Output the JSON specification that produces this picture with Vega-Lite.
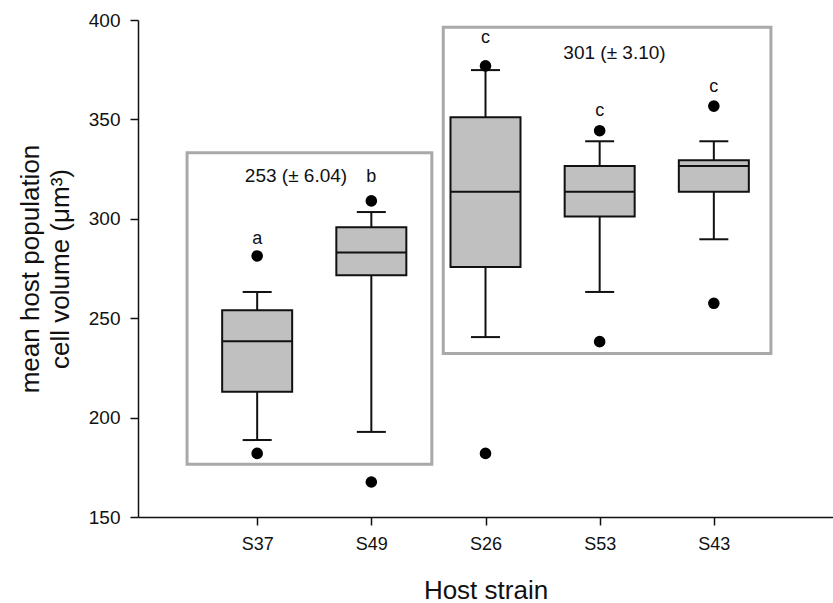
{
  "$schema": "https://vega.github.io/schema/vega-lite/v6.json",
  "width": 695,
  "height": 497,
  "autosize": {"type": "none"},
  "padding": {"left": 138, "top": 20, "right": 0, "bottom": 86},
  "background": "white",
  "config": {
    "view": {"stroke": null},
    "font": "Liberation Sans",
    "axis": {
      "grid": false,
      "domainColor": "#111111",
      "domainWidth": 1.5,
      "tickColor": "#111111",
      "tickWidth": 1.5,
      "tickSize": 8,
      "labelColor": "#111111",
      "labelFont": "Liberation Sans",
      "titleFont": "Liberation Sans",
      "titleColor": "#111111",
      "titleFontWeight": "normal"
    }
  },
  "datasets": {
    "boxes": [
      {"strain": "S37", "idx": 1, "wlo": 188.7, "q1": 213.0, "med": 238.4, "q3": 254.0, "whi": 263.2},
      {"strain": "S49", "idx": 2, "wlo": 192.8, "q1": 271.6, "med": 283.1, "q3": 295.7, "whi": 303.4},
      {"strain": "S26", "idx": 3, "wlo": 240.5, "q1": 275.8, "med": 313.6, "q3": 351.1, "whi": 374.8},
      {"strain": "S53", "idx": 4, "wlo": 263.2, "q1": 301.1, "med": 313.6, "q3": 326.6, "whi": 339.0},
      {"strain": "S43", "idx": 5, "wlo": 289.7, "q1": 313.6, "med": 326.6, "q3": 329.4, "whi": 339.0}
    ],
    "outliers": [
      {"idx": 1, "v": 281.3}, {"idx": 1, "v": 182.0},
      {"idx": 2, "v": 309.0}, {"idx": 2, "v": 167.6},
      {"idx": 3, "v": 376.9}, {"idx": 3, "v": 182.0},
      {"idx": 4, "v": 344.3}, {"idx": 4, "v": 238.2},
      {"idx": 5, "v": 356.7}, {"idx": 5, "v": 257.5}
    ],
    "letters": [
      {"idx": 1, "v": 289.8, "label": "a"},
      {"idx": 2, "v": 320.9, "label": "b"},
      {"idx": 3, "v": 390.8, "label": "c"},
      {"idx": 4, "v": 354.2, "label": "c"},
      {"idx": 5, "v": 366.4, "label": "c"}
    ],
    "frames": [
      {"x1": 0.386, "x2": 2.53, "y1": 176.5, "y2": 333.2, "label": "253 (± 6.04)", "lx": 1.34, "ly": 321.7},
      {"x1": 2.63, "x2": 5.5, "y1": 232.3, "y2": 396.3, "label": "301 (± 3.10)", "lx": 4.13, "ly": 383.2}
    ]
  },
  "layer": [
    {
      "data": {"name": "frames"},
      "mark": {"type": "rect", "fill": null, "filled": false, "stroke": "#a9a9a9", "strokeWidth": 3},
      "encoding": {
        "x": {"field": "x1", "type": "quantitative", "scale": {"domain": [0, 6], "nice": false, "zero": false},
          "axis": {"values": [1, 2, 3, 4, 5], "labelExpr": "['','S37','S49','S26','S53','S43'][datum.value]", "labelFontSize": 18, "labelPadding": 10, "title": "Host strain", "titleFontSize": 26, "titlePadding": 24}},
        "x2": {"field": "x2"},
        "y": {"field": "y1", "type": "quantitative", "scale": {"domain": [150, 400], "nice": false, "zero": false},
          "axis": {"values": [150, 200, 250, 300, 350, 400], "labelFontSize": 19, "labelPadding": 10, "title": ["mean host population", "cell volume (μm³)"], "titleFontSize": 26, "titleLineHeight": 30, "titlePadding": 15}},
        "y2": {"field": "y2"}
      }
    },
    {
      "data": {"name": "frames"},
      "mark": {"type": "text", "fontSize": 19, "color": "#111111", "baseline": "middle", "align": "center"},
      "encoding": {
        "x": {"field": "lx", "type": "quantitative"},
        "y": {"field": "ly", "type": "quantitative"},
        "text": {"field": "label"}
      }
    },
    {
      "data": {"name": "boxes"},
      "mark": {"type": "rule", "color": "#111111", "strokeWidth": 2},
      "encoding": {
        "x": {"field": "idx", "type": "quantitative"},
        "y": {"field": "wlo", "type": "quantitative"},
        "y2": {"field": "whi"}
      }
    },
    {
      "data": {"name": "boxes"},
      "mark": {"type": "tick", "orient": "horizontal", "color": "#111111", "size": 29, "thickness": 2, "opacity": 1},
      "encoding": {
        "x": {"field": "idx", "type": "quantitative"},
        "y": {"field": "wlo", "type": "quantitative"}
      }
    },
    {
      "data": {"name": "boxes"},
      "mark": {"type": "tick", "orient": "horizontal", "color": "#111111", "size": 29, "thickness": 2, "opacity": 1},
      "encoding": {
        "x": {"field": "idx", "type": "quantitative"},
        "y": {"field": "whi", "type": "quantitative"}
      }
    },
    {
      "data": {"name": "boxes"},
      "mark": {"type": "bar", "orient": "vertical", "size": 70, "fill": "#c0c0c0", "stroke": "#111111", "strokeWidth": 2},
      "encoding": {
        "x": {"field": "idx", "type": "quantitative"},
        "y": {"field": "q1", "type": "quantitative"},
        "y2": {"field": "q3"}
      }
    },
    {
      "data": {"name": "boxes"},
      "mark": {"type": "tick", "orient": "horizontal", "color": "#111111", "size": 70, "thickness": 2, "opacity": 1},
      "encoding": {
        "x": {"field": "idx", "type": "quantitative"},
        "y": {"field": "med", "type": "quantitative"}
      }
    },
    {
      "data": {"name": "outliers"},
      "mark": {"type": "point", "filled": true, "color": "#000000", "opacity": 1, "size": 135},
      "encoding": {
        "x": {"field": "idx", "type": "quantitative"},
        "y": {"field": "v", "type": "quantitative"}
      }
    },
    {
      "data": {"name": "letters"},
      "mark": {"type": "text", "fontSize": 18, "color": "#111111", "baseline": "middle", "align": "center"},
      "encoding": {
        "x": {"field": "idx", "type": "quantitative"},
        "y": {"field": "v", "type": "quantitative"},
        "text": {"field": "label"}
      }
    }
  ]
}
